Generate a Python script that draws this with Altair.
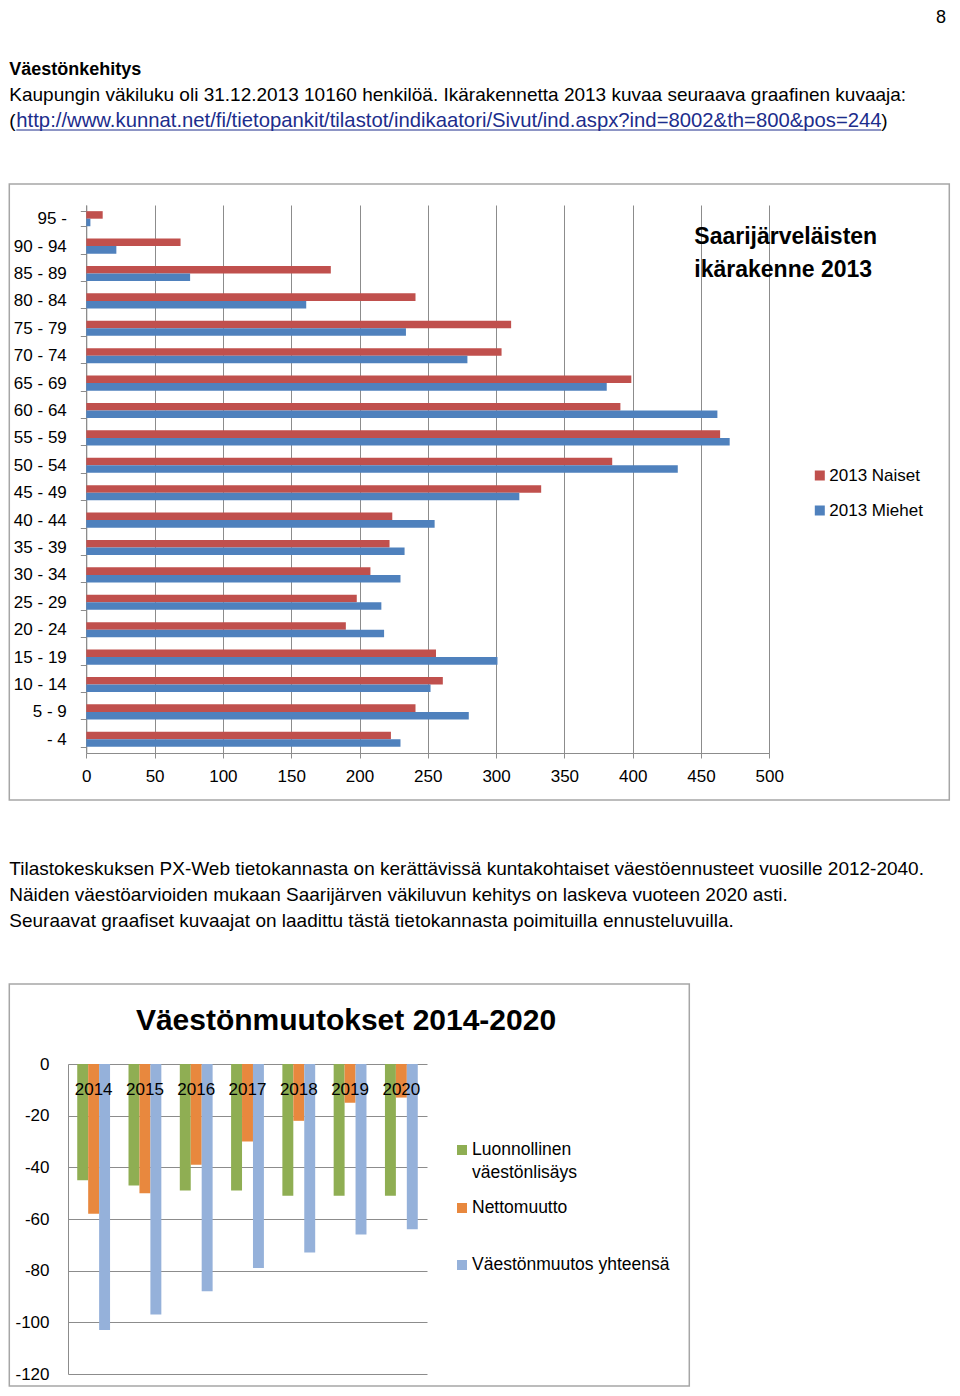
import altair as alt
import pandas as pd

FONT = "Liberation Sans"

# ---------- data: age structure 2013 ----------
age_groups = ["95 -", "90 - 94", "85 - 89", "80 - 84", "75 - 79", "70 - 74",
              "65 - 69", "60 - 64", "55 - 59", "50 - 54", "45 - 49", "40 - 44",
              "35 - 39", "30 - 34", "25 - 29", "20 - 24", "15 - 19", "10 - 14",
              "5 - 9", "- 4"]
naiset = [12, 69, 179, 241, 311, 304, 399, 391, 464, 385, 333, 224, 222, 208,
          198, 190, 256, 261, 241, 223]
miehet = [3, 22, 76, 161, 234, 279, 381, 462, 471, 433, 317, 255, 233, 230,
          216, 218, 301, 252, 280, 230]
series1 = ["2013 Naiset", "2013 Miehet"]
colors1 = ["#C0504D", "#4F81BD"]
x_ticks1 = [0, 50, 100, 150, 200, 250, 300, 350, 400, 450, 500]

# ---------- data: population change 2014-2020 ----------
years = ["2014", "2015", "2016", "2017", "2018", "2019", "2020"]
luonnollinen = [-45, -47, -49, -49, -51, -51, -51]
nettomuutto = [-58, -50, -39, -30, -22, -15, -13]
yhteensa = [-103, -97, -88, -79, -73, -66, -64]
series2 = ["Luonnollinen väestönlisäys", "Nettomuutto", "Väestönmuutos yhteensä"]
colors2 = ["#8FAE53", "#E8883E", "#95B1DA"]
y_ticks2 = [0, -20, -40, -60, -80, -100, -120]

one = pd.DataFrame({"k": [0]})
BOX = "#A6A6A6"
GRID = "#8C8C8C"
L = -58.7          # left page edge relative to the shared panel origin
SHIFT1 = 18.3      # chart 1 plot starts this far right of the origin


def txt(s, x, y, size=19, weight="normal", color="black", align="left", baseline="middle"):
    return alt.Chart(one).mark_text(
        align=align, baseline=baseline, fontSize=size, fontWeight=weight,
        font=FONT, color=color
    ).encode(x=alt.value(x), y=alt.value(y), text=alt.value(s))


def box(x1, x2, y1, y2):
    return alt.Chart(one).mark_rect(
        fill="white", fillOpacity=0, stroke=BOX, strokeWidth=1.5
    ).encode(x=alt.value(x1), x2=alt.value(x2), y=alt.value(y1), y2=alt.value(y2))


LINK = "#1C2D8C"

# ---------- header text panel ----------
header = alt.layer(
    txt("8", 878, 1, size=18, align="right", baseline="top"),
    txt("Väestönkehitys", L, 62, size=18, weight="bold"),
    txt("Kaupungin väkiluku oli 31.12.2013 10160 henkilöä.  Ikärakennetta 2013 kuvaa seuraava graafinen kuvaaja:", L, 87),
    txt("(", L, 113),
    txt("http://www.kunnat.net/fi/tietopankit/tilastot/indikaatori/Sivut/ind.aspx?ind=8002&th=800&pos=244",
        L + 7, 113, size=20.3, color=LINK),
    alt.Chart(one).mark_rule(color=LINK, strokeWidth=1).encode(
        x=alt.value(L + 7), x2=alt.value(L + 872), y=alt.value(122)),
    txt(")", L + 872, 113),
).properties(width=880, height=175)

# ---------- chart 1: age structure ----------
df1 = pd.DataFrame({
    "Ikä": age_groups * 2,
    "Sarja": [series1[0]] * len(age_groups) + [series1[1]] * len(age_groups),
    "Määrä": naiset + miehet,
})

bars1 = alt.Chart(df1).mark_bar().encode(
    y=alt.Y("Ikä:N", sort=age_groups,
            scale=alt.Scale(paddingInner=0.45, paddingOuter=0.225),
            axis=alt.Axis(title=None, tickBand="extent", tickSize=6, offset=-SHIFT1,
                          tickColor=GRID, domainColor=GRID, labelFontSize=17,
                          labelFont=FONT, labelColor="black", labelPadding=14,
                          grid=False)),
    yOffset=alt.YOffset("Sarja:N", sort=series1),
    x=alt.X("Määrä:Q", scale=alt.Scale(domain=[0, 500], nice=False,
                                        range=[SHIFT1, SHIFT1 + 683]),
            axis=alt.Axis(title=None, values=x_ticks1, grid=True, gridColor=GRID,
                          tickColor=GRID, domainColor=GRID, tickSize=5,
                          labelFlush=False, labelFontSize=17, labelFont=FONT,
                          labelColor="black", labelPadding=10)),
    color=alt.Color("Sarja:N", sort=series1,
                    scale=alt.Scale(domain=series1, range=colors1),
                    legend=alt.Legend(title=None, orient="none", legendX=743.3,
                                      legendY=262, symbolType="square",
                                      symbolSize=100, symbolStrokeWidth=0,
                                      labelFontSize=17, labelFont=FONT,
                                      labelColor="black", labelOffset=1,
                                      rowPadding=17, padding=0)),
)

chart1 = alt.layer(
    box(L, 881.3, -21, 595),
    bars1,
    txt("Saarijärveläisten", 626.3, 32, size=23, weight="bold"),
    txt("ikärakenne 2013", 626.3, 65, size=23, weight="bold"),
).properties(width=SHIFT1 + 683, height=548)

# ---------- middle text panel ----------
middle = alt.layer(
    txt("Tilastokeskuksen PX-Web tietokannasta on kerättävissä kuntakohtaiset väestöennusteet vuosille 2012-2040.", L, 68),
    txt("Näiden väestöarvioiden mukaan Saarijärven väkiluvun kehitys on laskeva vuoteen 2020 asti.", L, 94),
    txt("Seuraavat graafiset kuvaajat on laadittu tästä tietokannasta poimituilla ennusteluvuilla.", L, 120),
).properties(width=800, height=182)

# ---------- chart 2: population change ----------
df2 = pd.DataFrame({
    "Vuosi": years * 3,
    "Sarja": [series2[0]] * 7 + [series2[1]] * 7 + [series2[2]] * 7,
    "Muutos": luonnollinen + nettomuutto + yhteensa,
})

bars2 = alt.Chart(df2).mark_bar().encode(
    x=alt.X("Vuosi:N", sort=years,
            scale=alt.Scale(paddingInner=0.36, paddingOuter=0.18),
            axis=alt.Axis(title=None, orient="bottom", offset=-310, ticks=False,
                          domain=False, labelAngle=0, labelFontSize=17,
                          labelFont=FONT, labelColor="black", labelPadding=17,
                          zindex=1)),
    xOffset=alt.XOffset("Sarja:N", sort=series2),
    y=alt.Y("Muutos:Q", scale=alt.Scale(domain=[-120, 0], nice=False),
            axis=alt.Axis(title=None, values=y_ticks2, grid=True, gridColor=GRID,
                          domainColor=GRID, ticks=False, labelFontSize=17,
                          labelExpr="datum.value + ''",
                          labelFont=FONT, labelColor="black", labelPadding=19)),
    color=alt.Color("Sarja:N", sort=series2,
                    scale=alt.Scale(domain=series2, range=colors2), legend=None),
)

leg_y = [86, 144, 201]
legend2 = [
    alt.Chart(one).mark_square(size=100, color=c, opacity=1).encode(
        x=alt.value(394), y=alt.value(yy))
    for c, yy in zip(colors2, leg_y)
]

chart2 = alt.layer(
    box(L, 621.3, -80, 322),
    bars2,
    txt("Väestönmuutokset 2014-2020", 278, -43, size=30, weight="bold", align="center"),
    *legend2,
    txt("Luonnollinen", 404, 86, size=17.5),
    txt("väestönlisäys", 404, 109, size=17.5),
    txt("Nettomuutto", 404, 144, size=17.5),
    txt("Väestönmuutos yhteensä", 404, 201, size=17.5),
).properties(width=359, height=310)

chart = alt.vconcat(header, chart1, middle, chart2, spacing=0).resolve_scale(
    color="independent"
).properties(padding=0).configure_view(strokeWidth=0)

chart.save("out.html", embed_options={"renderer": "svg", "actions": False})
